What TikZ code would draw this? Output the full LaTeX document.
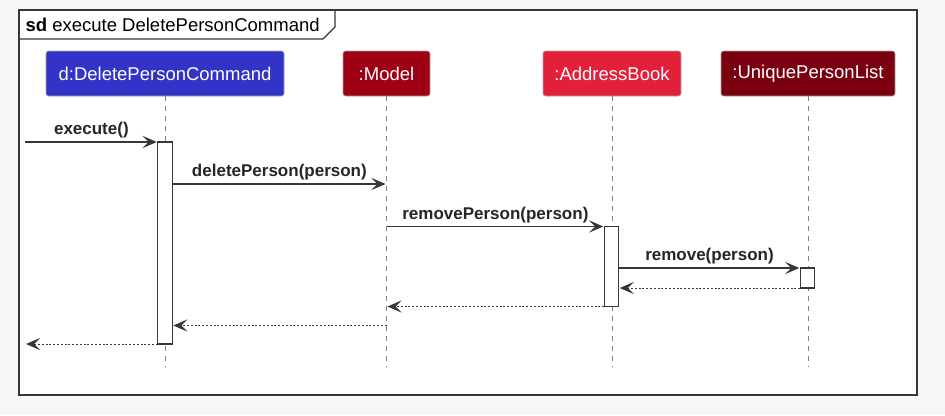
\documentclass[tikz,border=0pt]{standalone}
\usepackage{fontspec}
\setmainfont{Liberation Sans}
\usetikzlibrary{arrows.meta,positioning}

\definecolor{cmdblue}{RGB}{51,51,200}
\definecolor{modelred}{RGB}{158,0,20}
\definecolor{bookred}{RGB}{227,32,58}
\definecolor{listred}{RGB}{122,0,16}
\definecolor{framegray}{RGB}{55,55,55}

\tikzset{
  frame/.style={-, draw=framegray, line width=1.6pt},
  actor/.style={draw=gray!70, line width=0.6pt, rounded corners=2.5pt, minimum height=45pt,
    inner sep=0pt, text=white, font=\fontsize{18.5}{20}\selectfont},
  lifeline/.style={-, draw=gray, line width=0.8pt, dash pattern=on 5pt off 5pt},
  bar/.style={-, draw=framegray, fill=white, line width=1.2pt, minimum width=14.5pt, inner sep=0pt, outer sep=0pt},
  msg/.style={above, inner sep=3pt, text=black!85, font=\fontsize{17}{18}\bfseries\selectfont},
  ret/.style={line width=1pt, dash pattern=on 2pt off 1.8pt}
}

\begin{document}
\begin{tikzpicture}[x=1pt,y=-1pt,->,>={Stealth[length=14pt,width=12pt,inset=6pt]},shorten >=1pt,node distance=221.5pt,line width=1.2pt,draw=framegray]
  \useasboundingbox (0,0) rectangle (945,415);
  \fill[black!3] (0,0) rectangle (945,415);
  \draw[frame, fill=white] (19,10) rectangle (917,395);
  \draw[frame, line width=1.3pt] (19,39) -- (323,39) -- (335,27) -- (335,10);
  \node (title) [anchor=base west, inner sep=0pt, font=\fontsize{18.5}{20}\selectfont] at (25,31.5)
    {\textbf{sd} execute DeletePersonCommand};

  \node (cmd)   [actor, fill=cmdblue, minimum width=238pt] at (165,73.5) {d:DeletePersonCommand};
  \node (model) [actor, fill=modelred, minimum width=87pt, right of=cmd] {:Model};
  \node (book)  [actor, fill=bookred, minimum width=138pt, right of=model, node distance=225.5pt] {:AddressBook};
  \node (list)  [actor, fill=listred, minimum width=174pt, right of=book, node distance=196pt] {:UniquePersonList};

  \foreach \p in {cmd,model,book,list}
    \draw[lifeline] (\p.south) -- (\p.south |- 0,368);

  \node (cmdbar)  [bar, minimum height=202pt] at (165,243) {};
  \node (bookbar) [bar, minimum height=80pt] at (611.5,266.5) {};
  \node (listbar) [bar, minimum height=20pt] at (807.5,278) {};

  \coordinate (caller)     at (25,142);
  \coordinate (caller-ret) at (25,344);
  \coordinate (model-in)   at (model |- 0,184);
  \coordinate (model-out)  at (model |- bookbar.north);
  \coordinate (model-back) at (model |- bookbar.south);
  \coordinate (model-ret)  at (model |- 0,325.5);

  \path (caller) edge node[msg] {execute()} (cmdbar.north west);
  \path (cmdbar.east |- model-in) edge node[msg] {deletePerson(person)} (model-in);
  \path (model-out) edge node[msg] {removePerson(person)} (bookbar.north west);
  \path (bookbar.east |- listbar.north) edge node[msg] {remove(person)} (listbar.north west);

  \path (listbar.south west) edge[ret] (bookbar.east |- listbar.south);
  \path (bookbar.south west) edge[ret] (model-back);
  \path (model-ret) edge[ret] (cmdbar.east |- model-ret);
  \path (cmdbar.south west) edge[ret] (caller-ret);
\end{tikzpicture}
\end{document}
